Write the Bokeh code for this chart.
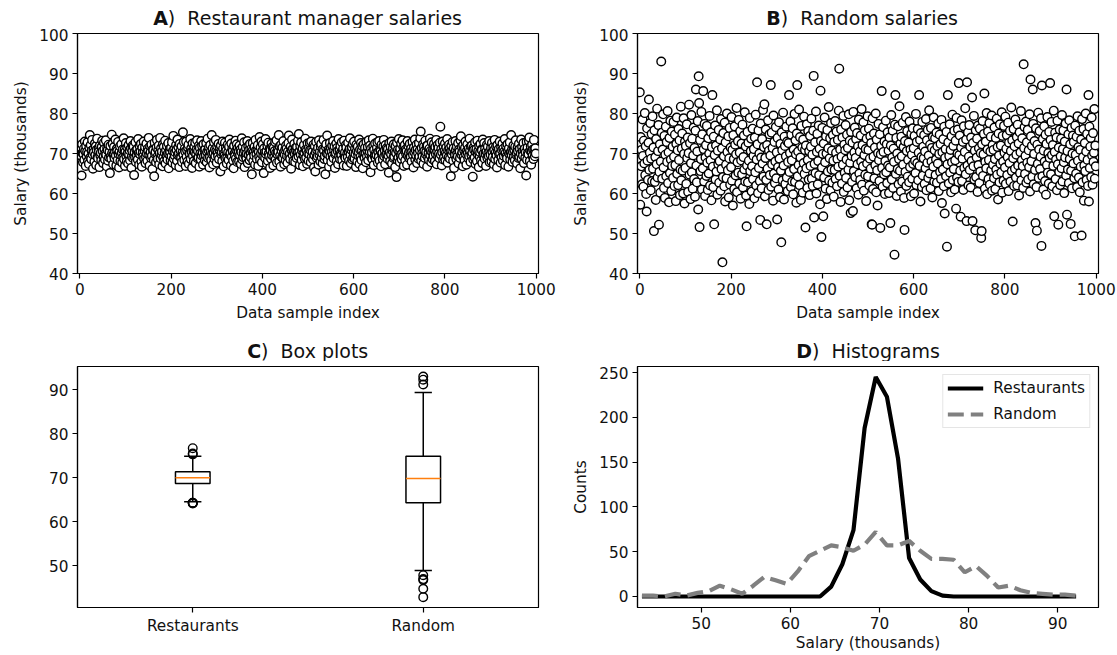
from bokeh.plotting import figure
from bokeh.layouts import column, row
from bokeh.models import Label, FixedTicker, Range1d, Legend
from bokeh.embed import file_html
from bokeh.resources import INLINE

FONT = "DejaVu Sans"

# Salaries (thousands) of 1000 restaurant managers, in sample order
restaurant_salaries = [
    70.8,68.9,71.6,69.4,64.5,72.3,70.1,67.8,69.9,71.2,68.4,73.0,70.6,66.9,71.9,69.3,70.4,72.8,68.1,70.0,67.4,71.5,74.6,69.0,72.1,
    68.6,70.7,73.4,69.8,66.2,71.0,70.3,68.0,72.5,69.6,71.8,67.1,70.9,73.7,69.1,68.8,71.3,70.5,66.6,72.0,69.5,70.2,68.3,71.7,73.2,
    70.6,67.6,69.2,72.7,71.1,68.5,70.0,73.3,69.7,66.8,71.4,70.8,68.2,72.2,69.0,70.4,65.1,71.9,69.3,68.7,74.7,70.1,72.4,67.3,69.8,
    71.6,68.9,70.3,73.5,69.5,67.0,71.2,70.7,68.4,72.9,69.9,66.5,70.5,71.8,68.1,69.6,72.3,70.2,67.7,71.0,69.1,73.8,68.6,70.9,66.9,
    70.4,72.6,69.4,68.0,71.5,70.0,67.5,72.1,69.7,70.8,68.3,73.1,71.3,66.4,69.2,70.6,72.0,68.8,71.7,64.6,70.3,69.0,72.8,67.9,70.9,
    69.5,71.1,68.5,73.6,70.1,67.2,71.9,69.8,70.5,72.4,68.0,66.7,71.4,70.2,69.3,73.0,68.7,70.7,71.6,67.6,69.1,72.5,70.0,68.2,71.2,
    70.6,73.9,69.6,67.0,71.8,70.3,68.9,72.2,69.4,66.1,71.0,70.8,68.4,64.3,72.7,69.9,70.4,67.8,71.5,73.4,69.2,68.6,70.9,72.0,67.3,
    70.1,73.9,68.8,71.3,69.7,70.5,66.8,72.3,69.0,71.7,68.1,70.2,73.2,67.5,70.8,69.4,71.9,68.5,70.0,72.6,66.3,69.8,71.1,70.4,68.3,
    71.4,69.3,72.8,67.7,70.6,74.4,68.7,71.0,69.5,70.3,67.1,72.1,70.9,68.2,73.5,69.6,71.6,70.0,66.6,72.4,69.1,70.7,68.9,71.8,67.9,
    70.2,75.3,69.7,72.9,68.4,71.2,70.5,66.9,73.0,69.2,70.8,68.0,71.5,72.2,67.4,70.1,69.9,73.6,68.6,71.3,70.4,66.4,72.5,69.4,70.7,
    68.1,71.7,70.3,72.7,67.6,69.8,71.0,73.3,68.8,70.6,69.0,72.0,66.7,71.4,70.0,68.5,73.1,69.5,71.9,70.2,67.2,72.3,69.3,70.9,68.3,
    71.1,69.6,72.6,67.8,70.4,73.7,68.9,70.8,71.6,66.5,69.1,72.1,70.5,68.4,74.6,69.9,71.3,67.3,70.1,72.8,68.7,71.0,69.4,73.4,70.6,
    67.7,71.8,70.2,69.3,72.4,68.6,70.9,71.5,65.5,72.0,69.8,70.4,68.1,73.0,71.2,66.8,70.0,69.5,72.7,68.9,71.4,70.7,67.5,69.0,72.2,
    70.3,68.4,71.7,73.5,69.7,70.1,67.0,72.5,69.2,71.1,70.6,68.2,66.3,71.9,70.0,69.4,73.2,68.7,70.8,72.3,67.9,71.3,69.9,70.5,68.0,
    72.0,69.6,71.0,67.4,70.4,73.8,68.5,71.6,69.1,70.2,72.8,66.6,70.7,69.3,71.4,68.8,70.0,73.1,67.6,71.8,69.7,70.9,68.3,72.4,70.1,
    69.0,71.2,64.8,70.6,72.6,68.1,70.3,69.5,71.7,67.2,73.4,70.8,69.8,68.6,71.0,72.1,66.9,70.4,69.2,74.1,68.4,71.5,70.0,73.0,67.8,
    70.7,72.3,69.4,65.1,71.3,70.2,68.9,73.6,69.9,70.5,67.5,71.9,68.2,72.7,70.0,69.3,71.1,66.4,70.9,68.7,72.5,69.6,71.6,70.3,67.0,
    71.4,69.1,70.6,72.9,68.5,70.1,73.3,67.7,69.8,71.0,70.4,74.6,68.0,71.8,69.5,66.7,72.2,70.7,69.0,71.5,68.8,73.1,70.2,67.3,69.7,
    70.9,68.3,72.0,71.2,69.4,67.6,70.5,72.6,74.5,69.2,70.0,68.6,71.7,66.2,70.8,73.5,69.6,71.1,68.1,70.3,72.4,69.9,67.9,71.4,70.6,
    68.9,71.6,70.1,73.2,69.3,74.85,70.4,67.1,71.9,69.7,72.8,68.4,70.7,71.3,66.8,69.5,72.1,70.2,68.7,73.7,71.0,69.0,70.6,67.4,72.5,
    70.0,68.2,71.5,69.8,72.7,70.9,67.8,73.0,69.1,71.2,70.4,68.5,72.2,66.5,69.6,71.8,65.5,70.3,72.9,68.9,70.8,69.3,71.4,67.2,73.3,
    69.7,70.5,68.0,71.7,72.4,69.0,70.1,67.5,71.1,73.4,70.7,68.6,69.4,64.8,71.6,72.3,70.0,74.5,68.3,69.9,71.0,66.7,70.6,72.6,69.2,
    71.3,67.9,70.4,72.0,69.5,73.1,68.8,70.9,71.8,66.4,69.8,70.2,72.5,68.1,71.4,70.6,67.3,73.6,69.3,70.8,68.6,71.9,70.1,69.6,72.8,
    68.4,70.7,71.2,67.0,73.2,69.4,70.3,68.9,72.1,71.5,66.9,70.0,69.1,72.7,70.5,68.2,71.1,73.8,69.7,67.6,70.9,71.6,68.5,72.4,69.0,
    70.2,73.0,68.7,71.3,69.9,66.6,72.2,70.6,68.0,71.7,69.5,70.4,73.5,67.4,71.0,69.2,72.6,68.4,70.8,71.9,66.3,69.7,72.3,70.1,68.9,
    71.4,70.0,67.8,72.9,69.3,70.7,71.6,68.3,73.3,69.8,70.5,72.0,65.3,71.2,69.0,70.3,68.6,73.7,71.8,67.1,70.9,69.4,72.5,68.8,70.2,
    69.6,71.5,72.8,67.7,70.4,69.1,73.1,68.2,71.0,70.6,66.8,72.2,69.9,70.1,68.5,71.8,73.4,69.3,70.8,67.3,72.1,69.7,71.3,70.0,68.7,
    71.1,69.5,65.2,72.6,70.3,68.1,71.7,69.8,73.0,67.5,70.7,71.4,68.9,72.3,69.2,70.5,66.6,71.9,70.1,64.1,72.7,68.4,70.9,69.0,73.6,
    70.4,67.9,71.2,69.6,72.5,68.6,70.0,73.3,69.3,71.6,66.9,70.8,72.1,68.3,71.0,69.9,70.6,67.2,73.1,69.4,71.8,70.2,68.8,72.4,70.7,
    69.1,71.3,68.0,70.5,72.9,69.7,66.5,71.5,70.3,73.5,68.5,70.9,69.5,72.2,67.6,71.1,70.1,68.7,72.6,69.2,70.8,73.8,75.5,68.2,71.4,
    70.0,69.3,72.3,67.4,71.7,70.6,68.9,73.2,69.8,70.4,71.9,66.7,72.0,69.0,70.2,68.4,71.2,73.7,69.6,70.7,67.8,72.8,70.3,68.6,71.0,
    69.4,72.4,70.9,68.1,71.6,69.9,73.4,67.3,70.5,72.1,69.2,71.4,70.0,68.8,72.7,76.7,69.7,71.1,67.0,70.3,73.0,68.5,71.8,69.1,70.6,
    72.5,68.3,70.1,71.5,69.5,73.6,67.7,70.8,69.0,72.2,71.2,68.7,70.4,64.3,71.9,69.8,70.7,72.9,68.2,71.3,66.4,70.2,69.6,73.1,70.9,
    68.6,71.7,70.0,69.3,72.6,67.5,71.0,70.5,68.9,73.3,74.3,69.7,71.6,70.3,66.8,72.1,69.1,70.8,68.4,71.4,73.0,69.9,67.2,70.6,72.3,
    70.1,68.8,71.2,69.4,73.7,70.7,67.9,71.8,69.6,72.0,70.2,64.2,68.5,71.5,70.9,69.0,72.8,67.4,70.4,71.1,68.1,73.2,69.8,70.6,66.6,
    71.9,69.2,70.3,72.4,68.3,71.0,70.8,67.6,73.5,69.5,70.0,72.6,68.7,71.3,69.9,66.9,70.5,72.2,68.9,71.7,70.1,69.3,73.1,67.8,70.7,
    69.7,71.4,68.0,72.7,70.4,69.1,71.6,67.3,70.9,73.4,68.6,70.2,71.8,69.5,66.5,72.1,70.6,68.4,71.1,69.8,73.0,70.0,67.7,71.5,69.0,
    70.8,72.5,68.2,71.2,69.4,70.5,73.6,67.1,70.1,71.9,69.3,68.8,72.3,70.7,66.7,71.3,69.9,72.8,68.5,70.3,74.6,69.6,71.0,67.9,70.4,
    72.0,69.1,70.9,68.3,71.7,73.3,69.7,70.2,67.5,71.4,70.6,68.9,72.4,69.2,71.1,66.3,70.0,73.5,68.7,71.6,70.5,69.5,72.6,67.6,70.8,
    71.2,69.0,70.3,64.5,72.9,68.4,71.5,70.1,69.8,73.1,74.0,68.1,70.7,71.8,67.2,70.4,72.2,69.4,71.0,68.6,73.4,70.9,69.3,71.3,70.0,
]

# Salaries (thousands) of 1000 randomly chosen people, in sample order
random_salaries = [
    85.3,57.2,74.1,66.8,70.9,62.3,78.5,69.4,61.7,73.2,67.5,80.1,64.6,71.8,59.9,55.5,76.3,68.2,63.4,72.7,83.5,65.9,70.2,77.6,60.8,
    68.7,74.9,63.1,79.3,66.2,71.5,50.6,75.8,62.9,69.1,58.4,73.6,67.3,81.2,64.0,70.6,77.1,52.2,65.4,72.3,60.2,68.0,93.0,75.2,63.7,
    71.0,79.8,66.5,61.4,74.4,58.9,69.7,76.7,64.3,72.9,67.9,80.6,62.6,70.3,57.8,73.9,65.1,78.2,68.5,60.6,75.5,66.9,71.7,63.9,77.9,
    69.2,61.9,74.7,67.1,58.1,72.4,79.0,64.9,70.8,62.1,76.1,68.4,73.3,59.6,66.0,81.7,63.3,71.2,75.0,65.7,60.0,78.8,69.9,57.5,73.0,
    66.4,71.9,62.4,77.3,68.9,74.0,60.4,70.1,82.2,64.7,72.6,58.6,67.6,79.6,65.3,73.7,61.2,69.5,76.5,63.6,71.4,59.2,75.7,86.0,67.0,
    62.8,70.5,78.1,56.0,89.3,82.6,51.6,73.4,65.6,68.6,80.4,61.0,74.8,66.3,85.6,71.1,63.0,77.4,59.4,69.0,72.1,64.4,76.9,67.7,60.9,
    73.8,65.0,70.0,79.4,62.0,68.3,75.3,58.3,71.6,84.6,66.7,61.6,74.2,52.3,69.6,77.0,63.5,72.0,65.5,80.8,59.7,70.7,67.4,75.9,62.7,
    68.1,73.5,60.7,78.6,66.1,71.3,42.8,64.1,75.1,69.3,61.8,77.7,58.0,72.8,67.2,63.8,80.0,70.4,65.8,74.3,59.0,68.8,76.4,62.2,71.5,
    66.6,79.1,63.2,70.9,57.0,74.6,68.6,61.1,76.8,72.2,64.5,69.8,81.4,60.3,67.8,73.1,65.2,78.4,62.5,70.2,75.6,58.7,68.3,72.5,64.8,
    77.2,61.5,69.1,74.5,66.0,80.3,63.0,71.8,59.5,51.8,67.0,75.4,62.8,72.7,68.2,57.4,78.9,65.6,70.6,73.7,60.5,66.8,76.2,63.6,69.4,
    71.1,58.8,74.0,65.3,79.7,62.0,68.5,87.8,72.3,60.1,75.8,66.4,70.0,63.1,53.4,77.5,69.0,61.3,73.6,67.5,80.9,64.2,71.6,82.3,59.3,
    68.9,76.0,63.4,52.3,72.1,66.2,78.3,60.9,70.7,74.8,64.6,69.5,87.1,61.7,75.2,67.3,71.4,58.2,79.5,65.0,72.9,62.6,68.0,76.6,63.8,
    70.3,53.5,73.9,66.6,61.0,77.8,68.7,59.1,72.4,65.7,47.8,75.3,70.8,63.3,80.2,67.0,58.5,74.2,71.9,62.4,69.3,76.7,64.0,73.0,60.6,
    67.9,72.6,84.6,65.4,70.1,78.0,61.6,74.7,68.3,63.0,76.3,59.8,71.0,66.1,79.9,62.9,73.3,69.8,57.7,75.0,87.1,64.3,70.5,67.1,81.0,
    62.1,74.1,69.0,58.4,76.9,65.8,71.5,60.2,73.5,67.6,79.2,64.9,70.9,51.5,72.0,66.3,77.3,61.4,68.4,75.6,63.5,70.6,59.6,74.4,66.9,
    71.7,78.7,63.7,69.7,61.9,75.7,89.4,54.0,67.4,72.8,65.1,80.5,60.0,70.4,74.9,62.3,68.1,77.0,64.6,71.2,57.3,85.7,73.1,49.1,66.5,
    76.4,69.9,54.3,72.5,64.0,79.0,67.8,61.2,74.3,70.0,58.6,75.9,65.5,71.3,81.6,63.2,68.8,73.8,60.8,77.6,66.0,70.7,62.7,74.6,68.2,
    59.2,72.9,65.9,78.1,63.6,70.2,75.5,61.8,68.6,73.4,66.7,80.7,91.2,64.4,71.0,57.9,76.0,69.2,62.5,74.0,67.2,79.4,60.4,72.2,65.2,
    70.8,77.1,63.9,68.5,74.7,61.5,71.4,66.0,79.8,58.3,73.2,67.7,55.1,75.4,69.4,62.9,72.7,55.6,80.4,65.6,70.3,76.5,64.1,68.9,73.6,
    61.3,75.1,67.3,71.8,59.7,78.5,65.0,70.5,63.4,74.5,68.0,81.1,62.2,72.1,66.8,77.8,60.7,69.6,75.8,64.7,71.1,58.1,73.7,67.5,79.3,
    64.3,70.9,76.2,62.0,68.7,74.3,66.2,72.6,52.3,52.2,78.8,61.1,69.2,75.0,63.8,71.5,67.1,80.0,60.3,73.5,65.8,57.0,70.1,77.4,68.3,
    63.1,74.8,51.4,69.8,71.9,85.6,66.4,61.7,76.6,70.4,64.8,73.0,59.9,68.1,78.2,65.3,72.3,62.6,75.3,67.0,70.7,60.1,74.0,66.5,52.6,
    72.0,79.6,63.5,69.0,75.7,61.4,71.2,67.9,44.7,77.2,84.6,64.9,73.9,59.4,70.0,66.1,76.8,62.3,68.6,81.8,65.7,72.5,60.5,74.2,69.3,
    63.0,77.7,67.2,71.6,58.9,50.9,73.1,65.4,79.1,61.9,70.6,75.6,64.2,68.4,72.7,62.8,78.0,66.6,71.0,59.3,74.9,69.7,63.7,76.3,67.4,
    71.3,60.0,74.4,68.2,65.1,79.9,62.1,72.9,67.6,76.1,63.3,70.2,84.6,66.9,73.4,58.0,75.1,69.1,61.6,77.9,64.5,71.7,68.8,74.6,62.4,
    70.5,66.3,78.6,60.8,73.3,67.7,75.9,63.9,69.5,80.8,65.0,72.2,61.3,76.4,68.0,71.4,59.0,74.1,66.7,79.0,63.0,70.8,73.8,64.6,68.5,
    75.2,62.7,71.8,67.5,77.5,60.6,69.9,74.7,65.4,72.4,63.6,78.4,57.6,70.3,66.0,73.6,61.8,76.7,55.0,68.9,71.1,64.3,75.4,46.7,67.3,
    84.6,72.8,62.5,69.4,77.3,65.2,70.9,60.3,74.3,67.8,79.7,63.4,71.9,66.1,75.7,61.0,68.3,73.2,56.2,78.9,64.0,70.0,76.0,62.9,87.6,
    69.6,74.5,65.7,54.2,71.5,78.3,63.1,68.7,72.9,60.9,76.8,66.4,70.4,81.3,64.8,73.5,53.1,87.8,67.0,75.3,62.0,69.2,77.1,65.9,71.7,
    61.5,74.0,68.1,84.0,53.1,72.6,66.8,79.4,63.5,70.7,50.8,75.8,64.1,69.0,73.7,60.4,77.0,67.1,71.3,62.6,76.2,65.5,70.1,48.9,50.6,
    72.3,78.1,64.4,69.8,74.9,85.0,61.2,67.9,73.0,66.3,80.1,59.8,71.0,75.5,63.6,68.4,77.6,62.2,70.5,74.2,65.8,79.5,60.7,72.1,67.2,
    70.9,63.8,76.5,68.6,61.1,73.9,66.0,78.7,64.7,71.6,58.5,75.0,69.5,62.8,77.3,67.4,72.0,65.3,80.3,60.2,74.4,68.0,63.2,76.9,70.2,
    66.5,79.2,62.4,71.2,74.6,64.6,69.1,77.7,60.6,72.7,67.6,75.7,63.0,70.6,81.5,65.6,73.3,53.0,68.8,76.1,61.9,71.8,66.2,78.5,64.0,
    69.7,74.1,62.0,77.2,67.0,72.5,59.5,75.3,65.1,70.3,80.6,63.3,68.3,73.8,66.8,61.4,92.3,71.4,76.6,64.9,69.4,78.0,62.7,72.8,67.7,
    75.9,63.5,70.8,66.6,79.8,60.5,88.5,74.3,68.1,71.9,64.2,86.0,77.4,62.3,69.9,73.1,65.9,52.6,76.3,61.6,50.7,72.2,67.4,80.2,63.9,
    71.0,75.6,66.1,69.2,78.8,46.9,87.0,64.3,73.6,61.0,70.7,76.8,68.0,63.1,74.7,59.7,72.4,67.1,79.1,65.2,70.1,62.5,75.4,68.9,87.6,
    73.4,64.8,77.9,69.6,61.8,72.1,66.9,80.7,54.3,70.4,75.2,63.6,68.5,74.0,60.8,78.2,67.3,52.2,71.5,65.4,76.0,62.1,69.3,73.7,66.3,
    79.6,63.0,71.1,75.8,67.8,60.1,73.0,69.0,77.5,64.5,86.0,54.7,70.6,66.0,74.8,62.6,78.3,68.6,72.3,52.4,65.7,76.4,61.3,70.0,74.5,
    67.5,72.9,63.8,49.3,77.0,69.7,65.0,74.2,61.6,79.3,68.2,71.6,64.0,75.7,60.3,70.9,66.7,73.5,49.5,78.6,62.8,69.1,76.1,58.2,67.0,
    72.6,65.6,80.0,70.5,63.4,74.9,68.4,61.9,84.6,58.0,76.7,66.4,71.7,73.9,64.1,79.0,69.5,62.2,75.1,67.9,70.2,81.1,63.7,72.0,66.8,
]

# Box-plot summary for each group
box_labels = ["Restaurants", "Random"]
box_q1 = [68.65, 64.3]
box_median = [70.0, 69.8]
box_q3 = [71.35, 74.85]
box_whisker_low = [64.5, 48.85]
box_whisker_high = [74.85, 89.4]
restaurant_fliers = [75.3, 75.5, 76.7, 64.3, 64.1, 64.3, 64.2]
random_fliers = [93.0, 92.3, 91.2, 47.8, 46.7, 46.9, 44.7, 42.8]

# Histogram (40 bins) shown as lines through the bin centres
hist_centers = [43.35, 44.60, 45.85, 47.10, 48.35, 49.59, 50.84, 52.09, 53.34, 54.59,
                55.84, 57.09, 58.34, 59.58, 60.83, 62.08, 63.33, 64.58, 65.83, 67.08,
                68.33, 69.58, 70.83, 72.08, 73.32, 74.57, 75.82, 77.07, 78.32, 79.57,
                80.82, 82.07, 83.32, 84.56, 85.81, 87.06, 88.31, 89.56, 90.81, 92.06]
hist_restaurants = [0, 0, 0, 0, 0, 0, 0, 0, 0, 0,
                    0, 0, 0, 0, 0, 0, 0, 11, 36, 74,
                    188, 245, 223, 154, 43, 19, 6, 1, 0, 0,
                    0, 0, 0, 0, 0, 0, 0, 0, 0, 0]
hist_random = [1, 1, 0, 3, 1, 4, 6, 12, 8, 3,
               12, 22, 18, 14, 28, 45, 51, 57, 55, 51,
               58, 72, 57, 57, 62, 51, 42, 42, 41, 27,
               34, 23, 10, 12, 7, 4, 3, 2, 2, 1]

# Panel titles: bold letter, then the caption
panel_letters = ["A", "B", "C", "D"]
panel_captions = ["Restaurant manager salaries", "Random salaries", "Box plots", "Histograms"]

TICK_PX = "15.3px"
TITLE_SIZE = 19.0
TEXT_COLOR = "#111111"


def make_fig(width, height, x_range, y_range, left, right, top, bottom):
    p = figure(width=width, height=height, x_range=x_range, y_range=y_range,
               output_backend="svg", toolbar_location=None, title=None,
               min_border_left=left, min_border_right=right,
               min_border_top=top, min_border_bottom=bottom)
    p.xgrid.visible = False
    p.ygrid.visible = False
    p.outline_line_color = "black"
    p.outline_line_width = 1.2
    p.background_fill_color = "white"
    p.border_fill_color = "white"
    for ax in (p.xaxis[0], p.yaxis[0]):
        ax.axis_line_color = "black"
        ax.axis_line_width = 1.2
        ax.major_tick_line_color = "black"
        ax.major_tick_line_width = 1.2
        ax.major_tick_out = 5
        ax.major_tick_in = 0
        ax.minor_tick_line_color = None
        ax.major_label_text_font = FONT
        ax.major_label_text_font_size = TICK_PX
        ax.major_label_text_color = TEXT_COLOR
        ax.major_label_standoff = 4
        ax.axis_label_text_font = FONT
        ax.axis_label_text_font_size = TICK_PX
        ax.axis_label_text_font_style = "normal"
        ax.axis_label_text_color = TEXT_COLOR
        ax.axis_label_standoff = 6
    return p


# Em widths in DejaVu Sans: bold letter, ")" plus two spaces, caption
LETTER_EM = {"A": 0.774, "B": 0.762, "C": 0.734, "D": 0.830}
BRACKET_EM = 1.026
CAPTION_EM = {"Restaurant manager salaries": 14.50, "Random salaries": 8.93,
              "Box plots": 4.646, "Histograms": 5.709}


def title_strip(height, baseline, entries):
    """A full-width strip holding the panel titles of one row."""
    s = figure(width=1117, height=height, x_range=Range1d(0, 1117), y_range=Range1d(0, height),
               output_backend="svg", toolbar_location=None, title=None, min_border=0,
               x_axis_location=None, y_axis_location=None)
    s.xgrid.visible = False
    s.ygrid.visible = False
    s.outline_line_color = None
    s.background_fill_color = "white"
    s.border_fill_color = "white"
    for cx, letter, caption in entries:
        letter_w = LETTER_EM[letter] * TITLE_SIZE
        total_w = (LETTER_EM[letter] + BRACKET_EM + CAPTION_EM[caption]) * TITLE_SIZE
        anchor = cx - total_w / 2 + letter_w
        common = dict(y=baseline, y_units="data", x_units="data", text_font=FONT,
                      text_font_size=f"{TITLE_SIZE}px", text_color=TEXT_COLOR,
                      text_baseline="alphabetic")
        s.add_layout(Label(x=anchor, text=letter, text_font_style="bold",
                           text_align="right", **common))
        s.add_layout(Label(x=anchor, text=")", text_align="left", **common))
        s.add_layout(Label(x=anchor + BRACKET_EM * TITLE_SIZE, text=caption,
                           text_align="left", **common))
    return s


def scatter_panel(values, width, left, right):
    p = make_fig(width, 302, Range1d(-5, 1005), Range1d(40, 100), left, right, 5, 57)
    p.xaxis.ticker = FixedTicker(ticks=[0, 200, 400, 600, 800, 1000])
    p.yaxis.ticker = FixedTicker(ticks=[40, 50, 60, 70, 80, 90, 100])
    p.xaxis.axis_label = "Data sample index"
    p.yaxis.axis_label = "Salary (thousands)"
    p.scatter(list(range(len(values))), values, marker="circle", size=8.6,
              fill_color="white", line_color="black", line_width=1.4)
    return p


pA = scatter_panel(restaurant_salaries, 560, 77, 22)
pB = scatter_panel(random_salaries, 557, 77, 19)

# C) box plots
pC = make_fig(560, 294, Range1d(0.5, 2.5), Range1d(40.44, 95.3), 77, 22, 5, 48)
positions = [1, 2]
pC.xaxis.ticker = FixedTicker(ticks=positions)
pC.xaxis.major_label_overrides = {pos: lab for pos, lab in zip(positions, box_labels)}
pC.yaxis.ticker = FixedTicker(ticks=[50, 60, 70, 80, 90])
half_box = 0.075
half_cap = 0.0375
pC.segment(x0=positions, y0=box_q3, x1=positions, y1=box_whisker_high, line_color="black", line_width=1.5)
pC.segment(x0=positions, y0=box_q1, x1=positions, y1=box_whisker_low, line_color="black", line_width=1.5)
pC.segment(x0=[x - half_cap for x in positions], y0=box_whisker_high,
           x1=[x + half_cap for x in positions], y1=box_whisker_high, line_color="black", line_width=1.5)
pC.segment(x0=[x - half_cap for x in positions], y0=box_whisker_low,
           x1=[x + half_cap for x in positions], y1=box_whisker_low, line_color="black", line_width=1.5)
pC.quad(left=[x - half_box for x in positions], right=[x + half_box for x in positions],
        bottom=box_q1, top=box_q3, fill_color="white", line_color="black", line_width=1.5)
pC.segment(x0=[x - half_box for x in positions], y0=box_median,
           x1=[x + half_box for x in positions], y1=box_median, line_color="#ff7f0e", line_width=1.5)
pC.scatter([positions[0]] * len(restaurant_fliers), restaurant_fliers, marker="circle", size=8.6,
           fill_color=None, line_color="black", line_width=1.4)
pC.scatter([positions[1]] * len(random_fliers), random_fliers, marker="circle", size=8.6,
           fill_color=None, line_color="black", line_width=1.4)

# D) histograms as lines
pD = make_fig(557, 294, Range1d(42.85, 94.57), Range1d(-12.3, 256.7), 77, 19, 5, 48)
pD.xaxis.ticker = FixedTicker(ticks=[50, 60, 70, 80, 90])
pD.yaxis.ticker = FixedTicker(ticks=[0, 50, 100, 150, 200, 250])
pD.xaxis.axis_label = "Salary (thousands)"
pD.yaxis.axis_label = "Counts"
pD.xaxis.axis_label_standoff = 2
r_rest = pD.line(hist_centers, hist_restaurants, line_color="black", line_width=4.2)
r_rand = pD.line(hist_centers, hist_random, line_color="#808080", line_width=4.2, line_dash="16 7")
legend = Legend(items=[("Restaurants", [r_rest]), ("Random", [r_rand])], location="top_right",
                label_text_font=FONT, label_text_font_size="15.3px", label_text_color=TEXT_COLOR,
                glyph_width=36, glyph_height=18, label_height=18, label_standoff=10,
                padding=4, spacing=8, margin=8, border_line_color="#cccccc",
                border_line_width=1, background_fill_alpha=0.8)
pD.add_layout(legend)

centres = [307.5, 867.5, 307.5, 867.5]
entries = [(centres[i], panel_letters[i], panel_captions[i]) for i in range(4)]
top_titles = title_strip(28, 10.7, entries[:2])
bottom_titles = title_strip(31, 10.3, entries[2:])

layout = column(top_titles, row(pA, pB, spacing=0), bottom_titles, row(pC, pD, spacing=0), spacing=0)
open("out.html", "w").write(file_html(layout, INLINE))
